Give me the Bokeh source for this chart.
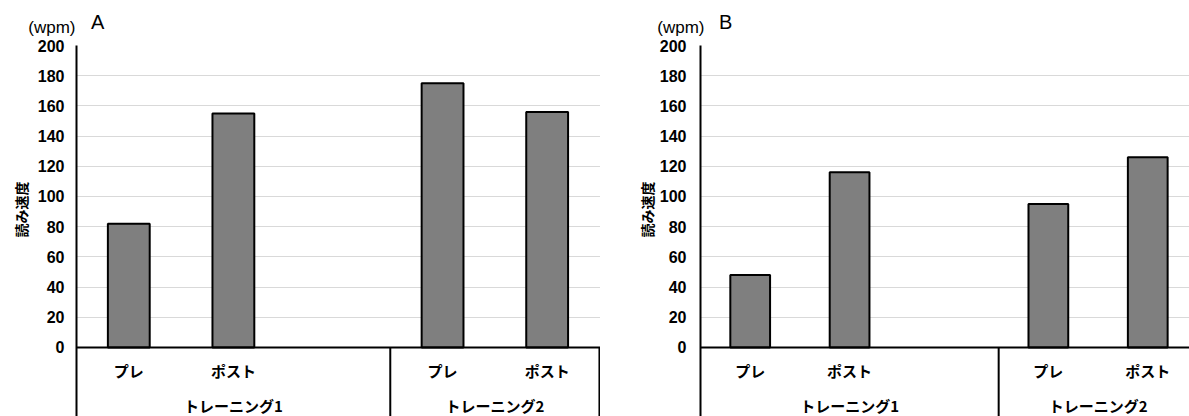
from bokeh.plotting import figure
from bokeh.models import Range1d, FixedTicker, Span, Title
from bokeh.layouts import row, column
from bokeh.core.properties import value
from bokeh.embed import file_html
from bokeh.resources import INLINE

# Reading speed (words per minute) before / after each training block
groups = ["トレーニング1", "トレーニング2"]
phases = ["プレ", "ポスト"]
group_slots = [3, 2]          # トレーニング1 keeps one empty slot after ポスト
speed_a = [82, 155, 175, 156]
speed_b = [48, 116, 95, 126]
y_ticks = [0, 20, 40, 60, 80, 100, 120, 140, 160, 180, 200]
panel_names = ["A", "B"]
unit_label = "(wpm)"
y_title = "読み速度"

JP_FONT = "Noto Sans CJK JP"
NUM_FONT = "Liberation Sans"

HEADER_H = 37                 # strip holding the unit and the panel letter
TOP_PAD = 45 - HEADER_H
PLOT_H = 416 - HEADER_H
Y_TOP = 200
Y_BOTTOM = -45.7              # category box runs down to the bottom edge
PHASE_ROW_Y = -15.2
GROUP_ROW_Y = -38.4
BAR_GREY = "#7f7f7f"
GRID_GREY = "#d9d9d9"

group_starts = [sum(group_slots[:i]) for i in range(len(group_slots))]
group_edges = [s + n for s, n in zip(group_starts, group_slots)]
group_centers = [s + n / 2 for s, n in zip(group_starts, group_slots)]
bar_x = [s + i + 0.5 for s in group_starts for i in range(len(phases))]
bar_labels = [ph for _ in groups for ph in phases]


def bare_axis(ax, gap, size, bold):
    ax.major_tick_line_color = None
    ax.minor_tick_line_color = None
    ax.major_tick_out = 0
    ax.major_tick_in = 0
    ax.minor_tick_out = 0
    ax.major_label_standoff = gap
    ax.major_label_text_font = NUM_FONT
    ax.major_label_text_font_size = size
    ax.major_label_text_font_style = "bold" if bold else "normal"
    ax.major_label_text_color = "black"


def make_header(name, width, left, unit_gap, name_dx):
    """Strip above a panel: unit on a one-tick axis, panel letter in the frame."""
    frame_w = width - left
    h = figure(width=width, height=HEADER_H, title=None,
               x_range=Range1d(0, frame_w), y_range=Range1d(HEADER_H, 0),
               x_axis_location=None, y_axis_location="left",
               output_backend="svg", toolbar_location=None,
               min_border_left=left, min_border_right=0,
               min_border_top=0, min_border_bottom=0)
    h.grid.visible = False
    h.outline_line_color = None
    unit_y = 28.0
    ax = h.yaxis[0]
    ax.ticker = FixedTicker(ticks=[unit_y])
    ax.major_label_overrides = {unit_y: unit_label}
    ax.axis_line_color = None
    bare_axis(ax, unit_gap, "17px", False)
    h.text(x=[name_dx], y=[21.6], text=[name],
           text_font=value(NUM_FONT), text_font_size="20px",
           text_color="black", text_align="left",
           text_baseline="middle")
    return h


def make_panel(speeds, width, left, x_end, tick_gap, title_gap):
    p = figure(width=width, height=PLOT_H, title=None,
               x_range=Range1d(0, x_end), y_range=Range1d(Y_BOTTOM, Y_TOP),
               x_axis_location=None, output_backend="svg",
               toolbar_location=None,
               min_border_left=left, min_border_right=0,
               min_border_top=TOP_PAD, min_border_bottom=0)
    p.outline_line_color = None
    p.background_fill_color = "white"
    p.border_fill_color = "white"

    ticker = FixedTicker(ticks=y_ticks)
    ax = p.yaxis[0]
    ax.ticker = ticker
    ax.axis_line_color = "black"
    ax.axis_line_width = 2
    bare_axis(ax, tick_gap, "16px", True)

    p.xgrid.grid_line_color = None
    p.ygrid.ticker = ticker
    p.ygrid.grid_line_color = GRID_GREY
    p.ygrid.grid_line_width = 1

    # bars
    p.vbar(x=bar_x, top=speeds, bottom=0, width=0.4,
           fill_color=BAR_GREY, line_color="black", line_width=2)

    # baseline and category box
    p.add_layout(Span(location=0, dimension="width",
                      line_color="black", line_width=2))
    edges = [e for e in group_edges if e < x_end]
    p.segment(x0=edges, y0=[0] * len(edges), x1=edges,
              y1=[Y_BOTTOM] * len(edges), line_color="black", line_width=2)

    # category labels
    p.text(x=bar_x, y=[PHASE_ROW_Y] * len(bar_x), text=bar_labels,
           text_font=value(JP_FONT), text_font_size="15px",
           text_font_style="bold", text_color="black",
           text_align="center", text_baseline="middle")
    p.text(x=group_centers, y=[GROUP_ROW_Y] * len(groups), text=groups,
           text_font=value(JP_FONT), text_font_size="15px",
           text_font_style="bold", text_color="black",
           text_align="center", text_baseline="middle")

    # vertical axis title
    p.add_layout(Title(text=y_title, align="left", offset=179,
                       standoff=title_gap, text_font=JP_FONT,
                       text_font_size="14px", text_font_style="bold",
                       text_color="black"), "left")
    return p


ha = make_header(panel_names[0], 600, 76, 1, 14.5)
hb = make_header(panel_names[1], 589, 100, -4, 18.5)
pa = make_panel(speed_a, 600, 76, 5.01, 12, 7)
pb = make_panel(speed_b, 589, 100, 4.92, 14, 0)

layout = row(column(ha, pa), column(hb, pb))
open("out.html", "w").write(file_html(layout, INLINE))
